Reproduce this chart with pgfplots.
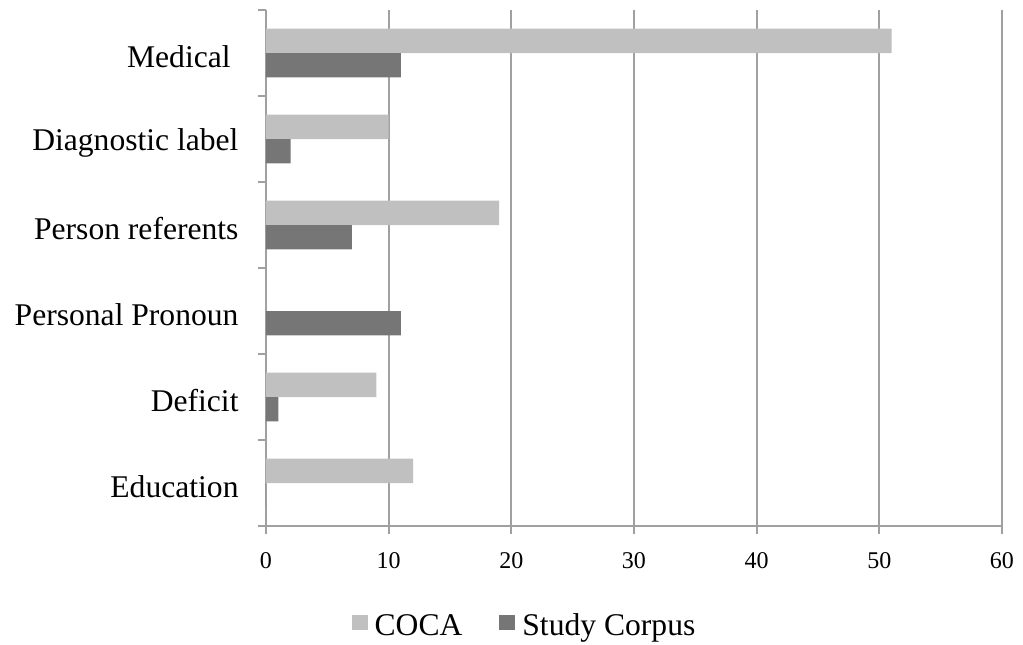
\documentclass[border=0pt]{standalone}
\usepackage{pgfplots}
\usepackage{pgfplotstable}
\pgfplotsset{compat=1.18}
\usepackage{fontspec}
\setmainfont{Liberation Serif}

\definecolor{cocagray}{HTML}{C0C0C0}
\definecolor{studygray}{HTML}{767676}
\definecolor{axisgray}{HTML}{A0A0A0}

% Counts per category (0 = Medical at the top)
\pgfplotstableread{
cat coca study
0   51   11
1   10   2
2   19   7
3   0    11
4   9    1
5   12   0
}\countdata

\begin{document}
\begin{tikzpicture}
\useasboundingbox (-133pt,-59pt) rectangle (378.5pt,263pt);
\begin{axis}[
  scale only axis,
  width=368pt, height=258pt,
  xmin=0, xmax=60,
  ymin=-0.5, ymax=5.5,
  y dir=reverse,
  axis lines*=left,
  axis line style={axisgray, line width=1pt},
  tick align=outside,
  major tick length=4pt,
  tick style={axisgray, line width=1pt},
  xtick={0,10,...,60},
  xmajorgrids,
  major grid style={axisgray, line width=1pt},
  ytick={-0.5,0.5,...,5.5},
  yticklabels={,,,,,,},
  extra y ticks={0,1,2,3,4,5},
  extra y tick labels={Medical\kern0.25em, Diagnostic label, Person referents, Personal Pronoun, Deficit, Education},
  extra y tick style={major tick length=0pt, tick style={draw=none}},
  yticklabel style={font=\fontsize{15.8}{19}\selectfont, xshift=-10.2pt, yshift=-2pt},
  xticklabel style={font=\fontsize{12}{14}\selectfont, yshift=-5.5pt},
  /pgf/number format/assume math mode=true,
  legend style={
    at={(0.3526,-0.194)}, anchor=center,
    draw=none, fill=none,
    legend columns=2,
    font=\fontsize{15.8}{19}\selectfont,
    /tikz/every even column/.append style={column sep=16.5pt},
  },
  legend image code/.code={%
    \fill[#1,/tikz/.cd] (0pt,-2pt) rectangle (8pt,5.5pt);
    \path (9.5pt,0pt);},
]
\addplot[xbar, fill=cocagray, draw=none, bar width=0.284, bar shift=-0.142]
  table[x=coca, y=cat] {\countdata};
\addplot[xbar, fill=studygray, draw=none, bar width=0.284, bar shift=0.142]
  table[x=study, y=cat] {\countdata};
\legend{COCA, Study Corpus}
\end{axis}
\end{tikzpicture}
\end{document}
